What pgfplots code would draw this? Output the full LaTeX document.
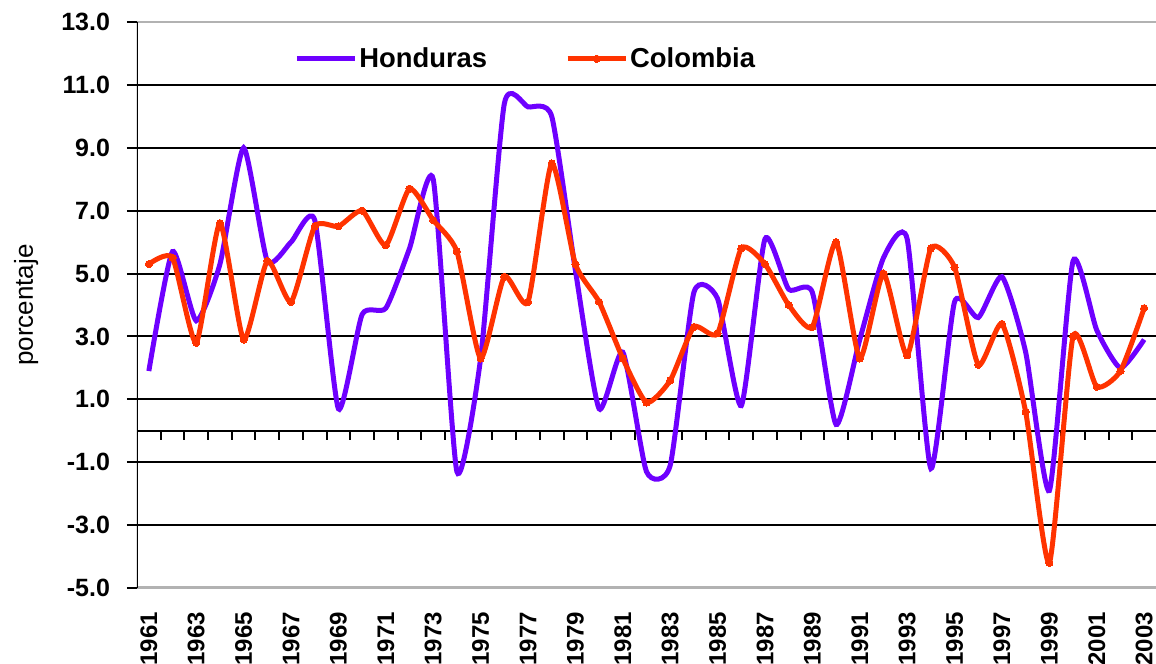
\documentclass[border=0pt]{standalone}
\usepackage{fontspec}
\setmainfont{Liberation Sans}
\usepackage{pgfplots}
\usepackage{pgfplotstable}
\pgfplotsset{compat=1.18}
\definecolor{hon}{RGB}{110,0,255}
\definecolor{col}{RGB}{255,51,0}
\pgfplotstableread{
idx year hon col
0 1961 1.9 5.3
1 1962 5.7 5.5
2 1963 3.5 2.8
3 1964 5.3 6.6
4 1965 9.0 2.9
5 1966 5.4 5.4
6 1967 6.0 4.1
7 1968 6.7 6.5
8 1969 0.7 6.5
9 1970 3.7 7.0
10 1971 3.9 5.9
11 1972 5.8 7.7
12 1973 8.0 6.7
13 1974 -1.3 5.7
14 1975 2.3 2.3
15 1976 10.4 4.9
16 1977 10.3 4.1
17 1978 10.0 8.5
18 1979 5.1 5.3
19 1980 0.7 4.1
20 1981 2.5 2.3
21 1982 -1.3 0.9
22 1983 -1.1 1.6
23 1984 4.4 3.3
24 1985 4.2 3.1
25 1986 0.8 5.8
26 1987 6.1 5.3
27 1988 4.5 4.0
28 1989 4.4 3.3
29 1990 0.2 6.0
30 1991 2.9 2.3
31 1992 5.5 5.0
32 1993 6.1 2.4
33 1994 -1.2 5.8
34 1995 4.1 5.2
35 1996 3.6 2.1
36 1997 4.9 3.4
37 1998 2.5 0.6
38 1999 -1.9 -4.2
39 2000 5.4 3.0
40 2001 3.2 1.4
41 2002 2.0 1.9
42 2003 2.9 3.9
}\data
\begin{document}
\begin{tikzpicture}
\begin{axis}[
  name=ax, at={(0,0)}, anchor=south west,
  scale only axis, width=509.5bp, height=283bp,
  xmin=-0.5, xmax=42.5, ymin=-5, ymax=13,
  xtick={0,2,...,42},
  xticklabels={1961,1963,1965,1967,1969,1971,1973,1975,1977,1979,1981,1983,1985,1987,1989,1991,1993,1995,1997,1999,2001,2003},
  xticklabel style={rotate=90, anchor=east, xshift=-3.5bp, font=\bfseries\fontsize{12bp}{12bp}\selectfont},
  ytick={-5,-3,...,13},
  yticklabels={-5.0,-3.0,-1.0,1.0,3.0,5.0,7.0,9.0,11.0,13.0},
  yticklabel style={xshift=-5bp, font=\bfseries\fontsize{12.5bp}{12.5bp}\selectfont},
  ymajorgrids, grid style={black, line width=1bp},
  axis line style={draw=none},
  tick align=outside,
  major tick length=5bp,
  xtick style={draw=none},
  ytick style={black, line width=1bp},
  ylabel={porcentaje},
  ylabel style={font=\fontsize{13bp}{13bp}\selectfont, at={(axis description cs:-0.1089,0.5)}, anchor=center},
  legend columns=2,
  legend style={draw=none, fill=none, inner sep=0pt, at={(axis description cs:0.154,0.935)}, anchor=west,
    font=\bfseries\fontsize{13.7bp}{13.7bp}\selectfont, nodes={inner sep=1bp},
    /tikz/every even column/.append style={column sep=38bp}},
  legend image code/.code={\draw[mark repeat=2,mark phase=2,#1] plot coordinates {(0bp,0bp) (14.5bp,0bp) (29bp,0bp)};},
]
\draw[black, line width=1bp] (axis cs:-0.5,0) -- (axis cs:42.5,0);
\pgfplotsinvokeforeach{0,...,41}{\draw[black, line width=1bp] (axis cs:#1+0.5,0) -- ++(0pt,-4.5bp);}
\draw[gray!60, line width=1bp] (rel axis cs:0,1) -- (rel axis cs:1,1);
\draw[gray!60, line width=1.8bp] (rel axis cs:0,0) -- (rel axis cs:1,0);
\draw[black, line width=1bp] (rel axis cs:0,0) -- (rel axis cs:0,1);
\addplot[hon, line width=2.5bp, smooth, tension=0.35, no marks] table[x=idx, y=hon] {\data};
\addlegendentry{Honduras}
\addplot[col, line width=2.5bp, smooth, tension=0.35, mark=*, mark size=1.8bp, mark options={solid, fill=col, draw=col, line width=0pt}] table[x=idx, y=col] {\data};
\addlegendentry{Colombia}
\end{axis}
\pgfresetboundingbox
\useasboundingbox (-68.5bp,-38bp) rectangle (509.5bp,294bp);
\end{tikzpicture}
\end{document}
